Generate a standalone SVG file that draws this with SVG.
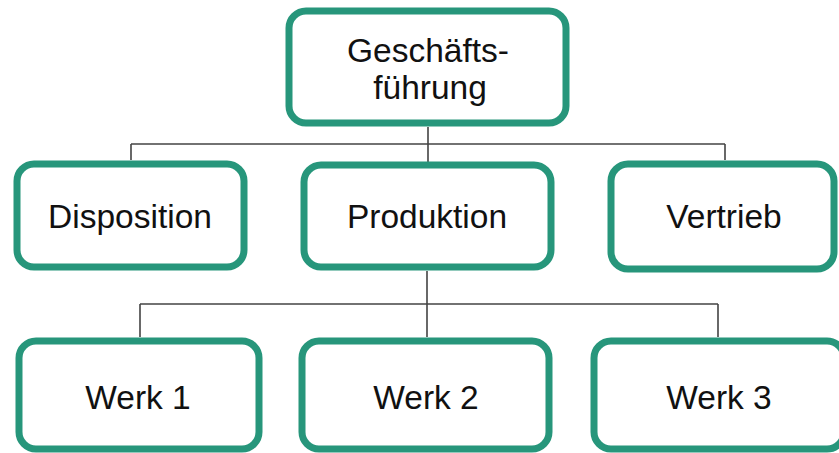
<svg xmlns="http://www.w3.org/2000/svg" width="839" height="453" viewBox="0 0 839 453">
  <style>
    .box { fill: #ffffff; stroke: #27967b; stroke-width: 7; }
    .lbl { font-family: "Liberation Sans", Arial, sans-serif; font-size: 33.5px; fill: #111111; text-anchor: middle; }
    .wire { fill: none; stroke: #444444; stroke-width: 1.6; }
  </style>
  <rect width="839" height="453" fill="#ffffff"/>

  <!-- connectors -->
  <g id="connectors">
    <path class="wire" d="M428,127 V144 M131,144 H725 M131,144 V160 M428,144 V162 M725,144 V160"/>
    <path class="wire" d="M427,271 V304 M140,304 H718 M140,304 V337 M427,304 V337 M718,304 V337"/>
  </g>

  <g id="geschaeftsfuehrung">
    <rect class="box" x="289" y="11" width="277" height="112" rx="17"/>
    <text class="lbl" x="428" y="62">Geschäfts-</text>
    <text class="lbl" x="430" y="99">führung</text>
  </g>

  <g id="disposition">
    <rect class="box" x="17" y="164" width="227" height="103" rx="17"/>
    <text class="lbl" x="130" y="228">Disposition</text>
  </g>

  <g id="produktion">
    <rect class="box" x="304" y="165" width="247" height="102" rx="17"/>
    <text class="lbl" x="427" y="228">Produktion</text>
  </g>

  <g id="vertrieb">
    <rect class="box" x="611" y="164" width="223" height="105" rx="17"/>
    <text class="lbl" x="724" y="228">Vertrieb</text>
  </g>

  <g id="werk1">
    <rect class="box" x="19" y="341" width="240" height="108" rx="17"/>
    <text class="lbl" x="138" y="409">Werk 1</text>
  </g>

  <g id="werk2">
    <rect class="box" x="302" y="341" width="247" height="108" rx="17"/>
    <text class="lbl" x="426" y="409">Werk 2</text>
  </g>

  <g id="werk3">
    <rect class="box" x="594" y="341" width="250" height="108" rx="17"/>
    <text class="lbl" x="719" y="409">Werk 3</text>
  </g>
</svg>
